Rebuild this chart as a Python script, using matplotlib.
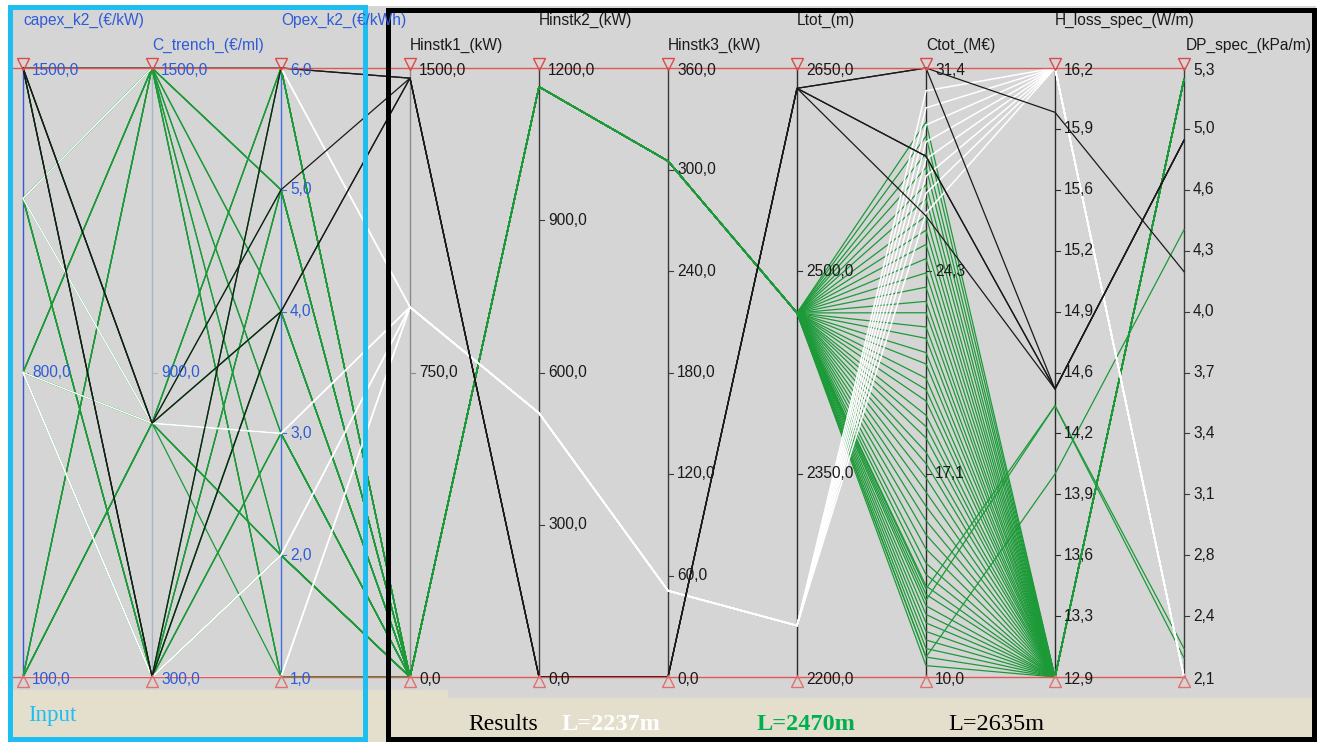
import matplotlib
matplotlib.use("Agg")
import matplotlib.pyplot as plt
from matplotlib.patches import Rectangle

# ---------------- axes (parallel coordinates) ----------------
axis_names = ["capex_k2_(€/kW)", "C_trench_(€/ml)", "Opex_k2_(€/kWh)", "Hinstk1_(kW)",
              "Hinstk2_(kW)", "Hinstk3_(kW)", "Ltot_(m)", "Ctot_(M€)",
              "H_loss_spec_(W/m)", "DP_spec_(kPa/m)"]
axis_min = [100.0, 300.0, 1.0, 0.0, 0.0, 0.0, 2200.0, 10.0, 12.9, 2.1]
axis_max = [1500.0, 1500.0, 6.0, 1500.0, 1200.0, 360.0, 2650.0, 31.4, 16.2, 5.3]

ticks_capex = [100.0, 800.0, 1500.0]
ticks_ctrench = [300.0, 900.0, 1500.0]
ticks_opex = [1.0, 2.0, 3.0, 4.0, 5.0, 6.0]
ticks_hinst1 = [0.0, 750.0, 1500.0]
ticks_hinst2 = [0.0, 300.0, 600.0, 900.0, 1200.0]
ticks_hinst3 = [0.0, 60.0, 120.0, 180.0, 240.0, 300.0, 360.0]
ticks_ltot = [2200.0, 2350.0, 2500.0, 2650.0]
ticks_ctot = [10.0, 17.1, 24.3, 31.4]
ticks_hloss = [12.9, 13.3, 13.6, 13.9, 14.2, 14.6, 14.9, 15.2, 15.6, 15.9, 16.2]
ticks_dp = [2.1, 2.4, 2.8, 3.1, 3.4, 3.7, 4.0, 4.3, 4.6, 5.0, 5.3]
all_ticks = [ticks_capex, ticks_ctrench, ticks_opex, ticks_hinst1, ticks_hinst2,
             ticks_hinst3, ticks_ltot, ticks_ctot, ticks_hloss, ticks_dp]

# ---------------- data: group L=2470m (green) ----------------
green_capex = [1500, 1500, 1200, 1500, 1200, 800, 1500, 1200, 800, 100, 1500, 1200, 800, 100, 1200,
               800, 1500, 800, 100, 1200, 1500, 800, 100, 1200, 800, 100, 1500, 800, 1200, 100,
               800, 100, 1200, 800, 100, 100, 1500, 800, 100, 1200, 100, 800, 100, 800,
               1200, 100, 100]
green_ctrench = [1500, 1500, 1500, 1500, 1500, 1500, 800, 1500, 1500, 1500, 1500, 800, 800, 1500, 1500,
                 1500, 300, 800, 800, 300, 1500, 800, 1500, 300, 300, 800, 800, 1500, 800, 300,
                 300, 800, 300, 800, 1500, 300, 300, 300, 800, 300, 300, 300, 300, 300,
                 300, 800, 300]
green_opex = [6, 5, 6, 4, 5, 6, 6, 4, 5, 6, 2, 5, 6, 5, 2,
              3, 5, 4, 6, 6, 1, 3, 3, 4, 5, 4, 2, 1, 2, 6,
              4, 3, 3, 2, 1, 5, 2, 3, 2, 2, 4, 2, 3, 1,
              1, 1, 2]
green_ctot = [29.5, 29.0, 28.4, 27.9, 27.3, 26.8, 26.2, 25.7, 25.2, 24.7, 24.2, 23.7, 23.2, 22.8, 22.3,
              21.9, 21.4, 21.0, 20.5, 20.1, 19.7, 19.2, 18.8, 18.4, 17.9, 17.5, 17.0, 16.5, 16.0, 15.5,
              15.0, 14.5, 14.0, 13.6, 13.2, 12.9, 12.5, 12.2, 11.9, 11.6, 11.3, 11.0, 10.7, 10.4,
              13.1, 12.7, 10.7]
green_hloss = [12.9] * 44 + [14.37, 14.37, 14.0]
green_dp = [5.24] * 44 + [2.25, 2.2, 4.45]
green_fixed = [0.0, 1163.0, 305.0, 2469.0]      # Hinstk1, Hinstk2, Hinstk3, Ltot

# ---------------- data: group L=2237m (white) ----------------
white_capex = [1200, 1500, 800, 1200, 100, 800, 100, 800]
white_ctrench = [1500, 1500, 800, 800, 300, 300, 300, 300]
white_opex = [6, 6, 3, 3, 1, 2, 2, 1]
white_ctot = [30.6, 30.0, 29.4, 28.8, 28.2, 27.6, 27.0, 26.3]
white_hloss = [16.2] * 8
white_dp = [2.1] * 8
white_fixed = [911.0, 520.0, 51.0, 2238.0]

# ---------------- data: group L=2635m (black) ----------------
black_capex = [1500, 1500, 1500, 1500, 1500]
black_ctrench = [1500, 300, 800, 800, 300]
black_opex = [6, 6, 5, 4, 4]
black_ctot = [31.4, 31.4, 28.3, 26.2, 28.3]
black_hloss = [15.96, 14.46, 14.46, 14.46, 14.46]
black_dp = [4.23, 4.92, 4.92, 4.92, 4.92]
black_fixed = [1475.0, 0.0, 0.0, 2635.0]

# ---------------- figure ----------------
W, H = 1320, 742
fig = plt.figure(figsize=(13.2, 7.42), dpi=100)
fig.patch.set_facecolor("white")

bg = fig.add_axes([0, 0, 1, 1], zorder=0)
bg.set_xlim(0, W); bg.set_ylim(H, 0); bg.axis("off")
bg.add_patch(Rectangle((10, 6), 1306, 692, facecolor="#d5d5d5", edgecolor="none"))
bg.add_patch(Rectangle((10, 698), 1306, 44, facecolor="#e4decd", edgecolor="none"))
bg.add_patch(Rectangle((10, 690), 438, 9, facecolor="#e4decd", edgecolor="none"))

X0, DX = 23, 129
YT, YB = 68, 677
ax = fig.add_axes([0, 0, 1, 1], zorder=1)
ax.patch.set_alpha(0)
ax.axis("off")
ax.set_xlim(-X0 / DX, (W - X0) / DX)
ax.set_ylim((YB - H) / (YB - YT), YB / (YB - YT))

n_ax = len(axis_names)
input_blue = "#2f5bd6"
axis_line_colors = ["#3a55d8", "#a8b4c8", "#3f6ee0", "#8a8a8a", "#3a3a3a",
                    "#3a3a3a", "#2a2a2a", "#2a2a2a", "#2a2a2a", "#3a3a3a"]
label_colors = [input_blue] * 3 + ["#1a1a1a"] * 7

def norm(i, v):
    return (v - axis_min[i]) / (axis_max[i] - axis_min[i])

# vertical axis lines
for i in range(n_ax):
    ax.plot([i, i], [0, 1], color=axis_line_colors[i], lw=1.0, zorder=1)

def draw_group(capex, ctrench, opex, fixed, ctot, hloss, dp, color, lw, z):
    for k in range(len(capex)):
        vals = [capex[k], ctrench[k], opex[k], fixed[0], fixed[1], fixed[2], fixed[3],
                ctot[k], hloss[k], dp[k]]
        ys = [norm(i, v) for i, v in enumerate(vals)]
        ax.plot(range(n_ax), ys, color=color, lw=lw, zorder=z, solid_joinstyle="miter")

draw_group(green_capex, green_ctrench, green_opex, green_fixed, green_ctot, green_hloss, green_dp,
           "#1c9a38", 0.9, 2)
draw_group(white_capex, white_ctrench, white_opex, white_fixed, white_ctot, white_hloss, white_dp,
           "#ffffff", 1.1, 3)
draw_group(black_capex, black_ctrench, black_opex, black_fixed, black_ctot, black_hloss, black_dp,
           "#1a1a1a", 0.9, 4)

# red limit lines and triangles
ax.plot([-0.1, n_ax - 1], [1, 1], color="#e25656", lw=1.0, zorder=5)
ax.plot([-0.1, n_ax - 1], [0, 0], color="#e25656", lw=1.0, zorder=5)
ax.plot(range(n_ax), [1.006] * n_ax, ls="none", marker="v", ms=8, mfc="none",
        mec="#e04848", mew=1.0, zorder=6)
ax.plot(range(n_ax), [-0.007] * n_ax, ls="none", marker="^", ms=8, mfc="none",
        mec="#e07070", mew=1.0, zorder=6)

# tick labels
fnt = "Liberation Sans"
for i in range(n_ax):
    tks = all_ticks[i]
    nt = len(tks)
    for j, t in enumerate(tks):
        pos = j / (nt - 1)
        lab = f"{t:.1f}".replace(".", ",")
        if 0 < j < nt - 1:
            ax.plot([i + 1 / DX, i + 5 / DX], [pos, pos], color=axis_line_colors[i], lw=0.8, zorder=1)
        ypos = pos - 2.5 / (YB - YT) if j == nt - 1 else (pos - 2 / (YB - YT) if j == 0 else pos)
        ax.text(i + 9 / DX, ypos, lab, ha="left", va="center", fontsize=11.2,
                family=fnt, color=label_colors[i], zorder=7)

# overlay: titles, boxes, legend texts
ov = fig.add_axes([0, 0, 1, 1], zorder=2)
ov.patch.set_alpha(0)
ov.set_xlim(0, W); ov.set_ylim(H, 0); ov.axis("off")
for i, name in enumerate(axis_names):
    yy = 20 if i % 2 == 0 else 45
    if i == n_ax - 1:
        ov.text(1312, yy, name, ha="right", va="center", fontsize=11.2, family=fnt,
                color=label_colors[i])
    else:
        ov.text(X0 + DX * i, yy, name, ha="left", va="center", fontsize=11.2, family=fnt,
                color=label_colors[i])

ov.add_patch(Rectangle((10, 6.5), 354.5, 732.5, fill=False, edgecolor="#1ebef0", lw=3.6))
ov.add_patch(Rectangle((387.5, 10), 926, 728.5, fill=False, edgecolor="#000000", lw=3.6))

serif = "Liberation Serif"
ov.text(28, 716, "Input", ha="left", va="center", fontsize=16.5, family=serif, color="#1ebef0")
ov.text(468, 724, "Results", ha="left", va="center", fontsize=17, family=serif, color="#000000")
ov.text(562, 724, "L=2237m", ha="left", va="center", fontsize=17.5, family=serif,
        color="#ffffff", fontweight="bold")
ov.text(757, 724, "L=2470m", ha="left", va="center", fontsize=17.5, family=serif,
        color="#00b050", fontweight="bold")
ov.text(948, 724, "L=2635m", ha="left", va="center", fontsize=17.5, family=serif, color="#000000")

fig.savefig("out.png", dpi=100)
